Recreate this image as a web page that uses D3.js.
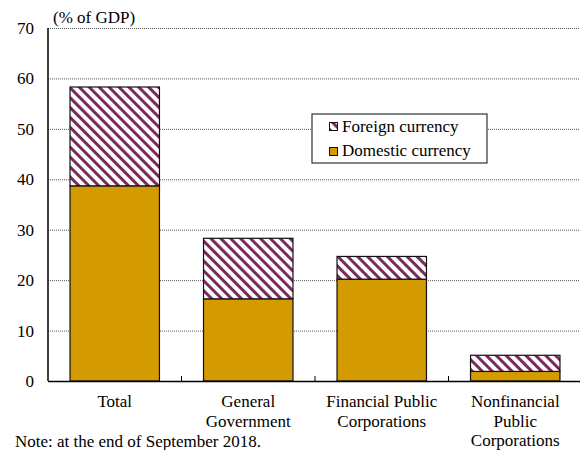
<!DOCTYPE html>
<html lang="en">
<head>
<meta charset="UTF-8">
<title>Public debt by currency</title>
<style>
  body { margin: 0; background: #fff; }
</style>
</head>
<body>
<div id="main"></div>
<script src="https://cdn.jsdelivr.net/npm/d3@7"></script>
<script>
  // data
  let categories = [["Total"], ["General", "Government"], ["Financial Public", "Corporations"], ["Nonfinancial", "Public", "Corporations"]]
  let domestic = [38.7, 16.3, 20.2, 1.9]
  let foreign = [19.6, 12.0, 4.5, 3.2]
  let yTicks = [0, 10, 20, 30, 40, 50, 60, 70]

  let W = 580, H = 450
  let pLeft = 48, pRight = 582, pTop = 28, pBottom = 381
  let gold = "#d39b00", plum = "#7b2a5c"
  let serif = "Liberation Serif, DejaVu Serif, serif"
  let fs = '17px'

  let svg = d3.select('#main').append('svg')
    .attr('width', W)
    .attr('height', H)
    .style('font-family', serif)

  // hatch pattern
  let defs = svg.append('defs')
  let pat = defs.append('pattern')
    .attr('id', 'hatch')
    .attr('patternUnits', 'userSpaceOnUse')
    .attr('width', 7)
    .attr('height', 7)
    .attr('patternTransform', 'rotate(-45)')
  pat.append('rect').attr('width', 7).attr('height', 7).attr('fill', '#fff')
  pat.append('rect').attr('width', 3).attr('height', 7).attr('fill', plum)

  let x = d3.scaleBand()
    .domain(d3.range(categories.length))
    .range([pLeft, pRight])
    .paddingInner(0.33)
    .paddingOuter(0.165)
  let y = d3.scaleLinear().domain([0, 70]).range([pBottom, pTop])

  // grid
  svg.append('g')
    .selectAll('line')
    .data(yTicks.filter(d => d > 0))
    .join('line')
    .attr('x1', pLeft).attr('x2', W)
    .attr('y1', d => y(d) + 0.5).attr('y2', d => y(d) + 0.5)
    .attr('stroke', '#555')
    .attr('stroke-width', 1)
    .attr('stroke-dasharray', '1 1')

  // bars
  let g = svg.append('g')
  categories.forEach((c, i) => {
    g.append('rect')
      .attr('x', x(i)).attr('width', x.bandwidth())
      .attr('y', y(domestic[i])).attr('height', y(0) - y(domestic[i]))
      .attr('fill', gold).attr('stroke', '#111').attr('stroke-width', 1.2)
    g.append('rect')
      .attr('x', x(i)).attr('width', x.bandwidth())
      .attr('y', y(domestic[i] + foreign[i])).attr('height', y(domestic[i]) - y(domestic[i] + foreign[i]))
      .attr('fill', 'url(#hatch)').attr('stroke', '#111').attr('stroke-width', 1.2)
  })

  // y axis
  svg.append('line')
    .attr('x1', pLeft).attr('x2', pLeft).attr('y1', pTop).attr('y2', pBottom)
    .attr('stroke', '#000').attr('stroke-width', 1.5)
  svg.append('g')
    .selectAll('text')
    .data(yTicks)
    .join('text')
    .attr('x', 34).attr('y', d => y(d) + 6)
    .attr('text-anchor', 'end')
    .style('font-size', fs)
    .text(d => d)

  // x axis
  svg.append('line')
    .attr('x1', pLeft).attr('x2', W).attr('y1', pBottom + 0.5).attr('y2', pBottom + 0.5)
    .attr('stroke', '#000').attr('stroke-width', 1.5)
  let step = x.step()
  svg.append('g')
    .selectAll('line')
    .data(d3.range(1, categories.length))
    .join('line')
    .attr('x1', d => x(d) - x.paddingInner() * step / 2)
    .attr('x2', d => x(d) - x.paddingInner() * step / 2)
    .attr('y1', pBottom).attr('y2', pBottom - 5)
    .attr('stroke', '#000')

  categories.forEach((lines, i) => {
    let t = svg.append('text')
      .attr('x', x(i) + x.bandwidth() / 2)
      .attr('y', 407)
      .attr('text-anchor', 'middle')
      .style('font-size', fs)
    lines.forEach((l, j) => {
      t.append('tspan')
        .attr('x', x(i) + x.bandwidth() / 2)
        .attr('dy', j == 0 ? 0 : 19.5)
        .text(l)
    })
  })

  // unit + note
  svg.append('text').attr('x', 53).attr('y', 23).style('font-size', fs).text('(% of GDP)')
  svg.append('text').attr('x', 15).attr('y', 447).style('font-size', fs).text('Note: at the end of September 2018.')

  // legend
  let lg = svg.append('g').attr('transform', 'translate(312,114)')
  lg.append('rect').attr('width', 175).attr('height', 49)
    .attr('fill', '#fff').attr('stroke', '#333').attr('stroke-width', 1.2)
  let items = [{ name: 'Foreign currency', fill: 'url(#hatch)' }, { name: 'Domestic currency', fill: gold }]
  items.forEach((it, i) => {
    lg.append('rect')
      .attr('x', 17.5).attr('y', 8.5 + i * 25).attr('width', 8).attr('height', 8)
      .attr('fill', it.fill).attr('stroke', '#111').attr('stroke-width', 1)
    lg.append('text')
      .attr('x', 30).attr('y', 18 + i * 24)
      .style('font-size', fs)
      .text(it.name)
  })
</script>
</body>
</html>
